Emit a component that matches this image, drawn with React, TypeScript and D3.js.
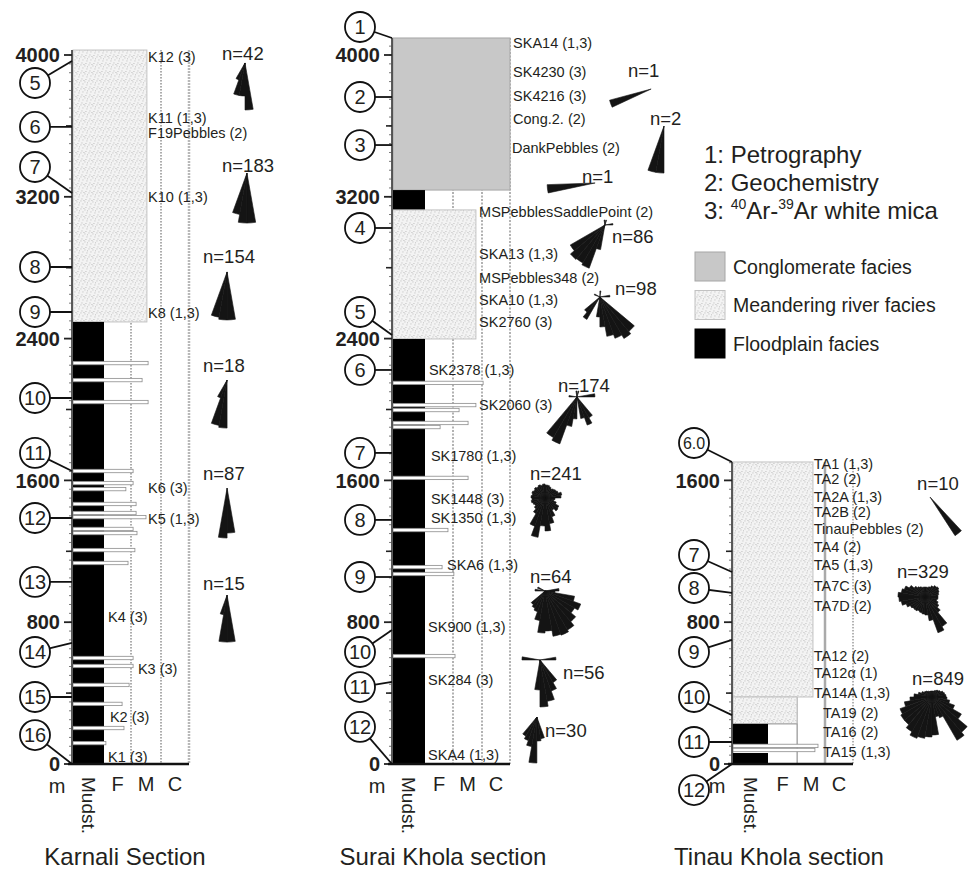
import React from 'react';
import * as d3 from 'd3';

const FONT = "'Liberation Sans', Arial, Helvetica, sans-serif";
const INK = '#231f20';

// ---------------- shared ----------------
const depthDomain = [0, 4000];
const labelledStep = 800;
const midStep = 400;
const minorStep = 50;

// ---------------- Karnali ----------------
const karnaliTicks = [0, 800, 1600, 2400, 3200, 4000];
const karnaliFacies = [
  { type: 'meander', top: 4028, base: 2494, grain: 2.53 },
  { type: 'flood', top: 2494, base: 0, grain: 1 },
];
const karnaliBeds: [number, number][] = [
  [2262, 2.57], [2166, 2.37], [2042, 2.57], [1653, 2.07], [1585, 2.07], [1551, 1.81],
  [1467, 2.17], [1416, 2.17], [1393, 2.5], [1326, 2.07], [1303, 2.2], [1207, 2.13],
  [1134, 1.89], [598, 2.07], [553, 2.07], [446, 1.93], [339, 1.67], [203, 1.74], [118, 1.07],
];
const karnaliSamples: [string, number, number][] = [
  ['K12 (3)', 3989, 2.57], ['K11 (1,3)', 3645, 2.57], ['F19Pebbles (2)', 3560, 2.57],
  ['K10 (1,3)', 3199, 2.57], ['K8 (1,3)', 2544, 2.57], ['K6 (3)', 1557, 2.57],
  ['K5 (1,3)', 1382, 2.57], ['K4 (3)', 829, 1.15], ['K3 (3)', 536, 2.23],
  ['K2 (3)', 265, 1.22], ['K1 (3)', 39, 1.15],
];
const karnaliMarkers: [string, number, number][] = [
  ['5', 3966, 3842], ['6', 3594, 3594], ['7', 3221, 3368], ['8', 2804, 2804], ['9', 2550, 2550],
  ['10', 2065, 2065], ['11', 1653, 1755], ['12', 1388, 1388], ['13', 1027, 1027],
  ['14', 683, 632], ['15', 378, 378], ['16', 0, 163],
];
const karnaliRoses = [
  { n: 42, depth: 3955, lane: 6.0, labelDepth: 3972, labelLane: 5.18, petals: [[170, 47], [180, 33], [190, 33], [200, 18]] },
  { n: 183, depth: 3334, lane: 6.07, labelDepth: 3340, labelLane: 5.18, petals: [[170, 50], [180, 50], [190, 42]] },
  { n: 154, depth: 2776, lane: 5.36, labelDepth: 2827, labelLane: 4.5, petals: [[170, 48], [180, 48], [190, 46]] },
  { n: 18, depth: 2166, lane: 5.36, labelDepth: 2212, labelLane: 4.5, petals: [[180, 48], [190, 46], [200, 19]] },
  { n: 87, depth: 1557, lane: 5.36, labelDepth: 1602, labelLane: 4.5, petals: [[170, 45], [180, 50]] },
  { n: 15, depth: 953, lane: 5.36, labelDepth: 982, labelLane: 4.5, petals: [[170, 47], [180, 47], [190, 20]] },
];

// ---------------- Surai Khola ----------------
const suraiTicks = [0, 800, 1600, 2400, 3200, 4000];
const suraiFacies = [
  { type: 'conglomerate', top: 4096, base: 3238, grain: 4 },
  { type: 'flood', top: 3238, base: 3126, grain: 1 },
  { type: 'meander', top: 3126, base: 2398, grain: 2.79 },
  { type: 'flood', top: 2398, base: 0, grain: 1 },
];
const suraiBeds: [number, number][] = [
  [2150, 3.04], [2025, 2.79], [1997, 2.21], [1924, 2.52], [1901, 1.54],
  [1614, 2.52], [1320, 1.82], [1111, 1.61], [1072, 2.03], [609, 2.07],
];
const suraiSamples: [string, number, number][] = [
  ['SKA14 (1,3)', 4068, 4.11], ['SK4230 (3)', 3904, 4.11], ['SK4216 (3)', 3769, 4.11],
  ['Cong.2. (2)', 3639, 4.11], ['DankPebbles (2)', 3475, 4.07],
  ['MSPebblesSaddlePoint (2)', 3114, 2.9], ['SKA13 (1,3)', 2877, 2.9], ['MSPebbles348 (2)', 2742, 2.9],
  ['SKA10 (1,3)', 2618, 2.9], ['SK2760 (3)', 2494, 2.9],
  ['SK2378 (1,3)', 2223, 1.14], ['SK2060 (3)', 2025, 2.9], ['SK1780 (1,3)', 1738, 1.21],
  ['SK1448 (3)', 1495, 1.21], ['SK1350 (1,3)', 1388, 1.21], ['SKA6 (1,3)', 1123, 1.79],
  ['SK900 (1,3)', 773, 1.11], ['SK284 (3)', 474, 1.11], ['SKA4 (1,3)', 51, 1.11],
];
const suraiMarkers: [string, number, number][] = [
  ['1', 4096, 4158], ['2', 3763, 3763], ['3', 3492, 3492], ['4', 3024, 3024], ['5', 2420, 2550],
  ['6', 2223, 2223], ['7', 1755, 1755], ['8', 1377, 1377], ['9', 1055, 1055],
  ['10', 756, 632], ['11', 463, 434], ['12', 0, 209],
];
const suraiRoses = [
  { n: 1, depth: 3808, lane: 9.04, labelDepth: 3876, labelLane: 8.21, petals: [[245, 43]] },
  { n: 2, depth: 3599, lane: 9.5, labelDepth: 3605, labelLane: 9.0, petals: [[180, 47], [190, 47]] },
  { n: 1, depth: 3278, lane: 7.04, labelDepth: 3278, labelLane: 6.57, petals: [[258, 48]] },
  { n: 86, depth: 3041, lane: 7.39, labelDepth: 2939, labelLane: 7.64,
    petals: [[190, 25], [200, 46], [210, 44], [220, 45], [230, 40], [80, 8], [350, 5], [10, 5]] },
  { n: 98, depth: 2635, lane: 7.21, labelDepth: 2646, labelLane: 7.75,
    petals: [[130, 45], [140, 48], [150, 44], [160, 40], [170, 30], [180, 20], [210, 26], [220, 20], [0, 6], [80, 10], [290, 6]] },
  { n: 174, depth: 2071, lane: 6.39, labelDepth: 2099, labelLane: 5.71,
    petals: [[200, 50], [210, 47], [190, 30], [180, 22], [150, 30], [140, 24], [160, 22], [80, 18], [270, 8], [350, 6], [10, 6]] },
  { n: 241, depth: 1501, lane: 5.25, labelDepth: 1602, labelLane: 4.71,
    petals: [[0, 13], [10, 13], [20, 12], [30, 11], [40, 12], [50, 13], [60, 14], [70, 17], [80, 16], [90, 10],
      [100, 9], [110, 12], [120, 16], [130, 17], [140, 14], [150, 20], [160, 26], [170, 33], [180, 28], [190, 40],
      [200, 30], [210, 18], [220, 14], [230, 12], [240, 13], [250, 14], [260, 13], [270, 14], [280, 13], [290, 14],
      [300, 13], [310, 14], [320, 13], [330, 14], [340, 13], [350, 14]] },
  { n: 64, depth: 976, lane: 5.25, labelDepth: 1021, labelLane: 4.71,
    petals: [[80, 14], [90, 10], [100, 30], [110, 38], [120, 34], [130, 40], [140, 45], [150, 47], [160, 46], [170, 40],
      [180, 42], [190, 30], [200, 22], [210, 20], [220, 18], [270, 10], [290, 8]] },
  { n: 56, depth: 587, lane: 5.07, labelDepth: 480, labelLane: 5.89,
    petals: [[80, 16], [270, 18], [140, 26], [150, 33], [160, 42], [170, 47], [180, 30]] },
  { n: 30, depth: 265, lane: 4.96, labelDepth: 152, labelLane: 5.25,
    petals: [[160, 22], [170, 24], [180, 46], [190, 30], [200, 25], [210, 22]] },
];

// ---------------- Tinau Khola ----------------
const tinauTicks = [0, 800, 1600];
const tinauFacies = [
  { type: 'meander', top: 1704, base: 378, grain: 2.57 },
  { type: 'meander', top: 378, base: 226, grain: 2 },
  { type: 'sand', top: 226, base: 0, grain: 2 },
  { type: 'flood', top: 226, base: 113, grain: 1 },
  { type: 'flood', top: 62, base: 0, grain: 1 },
];
const tinauBeds: [number, number][] = [[102, 2.75], [79, 2.64]];
const tinauSamples: [string, number, number][] = [
  ['TA1 (1,3)', 1693, 2.6], ['TA2 (2)', 1608, 2.6], ['TA2A (1,3)', 1506, 2.6], ['TA2B (2)', 1422, 2.6],
  ['TinauPebbles (2)', 1326, 2.6], ['TA4 (2)', 1224, 2.6], ['TA5 (1,3)', 1123, 2.6], ['TA7C (3)', 1004, 2.6],
  ['TA7D (2)', 891, 2.6], ['TA12 (2)', 609, 2.6], ['TA12\u03b1 (1)', 513, 2.6], ['TA14A (1,3)', 401, 2.6],
  ['TA19 (2)', 288, 2.93], ['TA16 (2)', 181, 2.93], ['TA15 (1,3)', 68, 2.93],
];
const tinauMarkers: [string, number, number][] = [
  ['6.0', 1704, 1811], ['7', 1083, 1179], ['8', 965, 993], ['9', 700, 632],
  ['10', 276, 378], ['11', 124, 124], ['12', 0, -147],
];
const tinauRoses = [
  { n: 10, depth: 1506, lane: 6.75, labelDepth: 1546, labelLane: 6.29, petals: [[137, 46]] },
  { n: 329, depth: 942, lane: 6.57, labelDepth: 1049, labelLane: 5.57,
    petals: [[0, 10], [10, 10], [20, 11], [30, 13], [40, 15], [50, 16], [60, 15], [70, 14], [80, 13], [90, 13],
      [100, 12], [110, 14], [120, 16], [130, 20], [140, 34], [150, 38], [160, 24], [170, 18], [180, 17], [190, 16],
      [200, 15], [210, 16], [220, 16], [230, 17], [240, 20], [250, 24], [260, 26], [270, 27], [280, 24], [290, 22],
      [300, 18], [310, 14], [320, 12], [330, 11], [340, 10], [350, 10]] },
  { n: 849, depth: 378, lane: 6.82, labelDepth: 446, labelLane: 6.11,
    petals: [[0, 6], [10, 6], [20, 7], [30, 8], [40, 9], [50, 10], [60, 12], [70, 13], [80, 14], [90, 15],
      [100, 18], [110, 24], [120, 34], [130, 46], [140, 50], [150, 22], [160, 20], [170, 38], [180, 40], [190, 42],
      [200, 44], [210, 40], [220, 36], [230, 36], [240, 34], [250, 28], [260, 22], [270, 18], [280, 14], [290, 11],
      [300, 9], [310, 8], [320, 7], [330, 6], [340, 6], [350, 6]] },
];

// ---------------- legend ----------------
const methodLabels = ['1: Petrography', '2: Geochemistry'];
const legendFacies = [
  { type: 'conglomerate', label: 'Conglomerate facies' },
  { type: 'meander', label: 'Meandering river facies' },
  { type: 'flood', label: 'Floodplain facies' },
];
const grainLabels = ['F', 'M', 'C'];

// ---------------- layout ----------------
const sections = [
  {
    key: 'karnali', title: 'Karnali Section', titleX: 125, grainRange: [73, 104, 131, 161, 189], top: 4028,
    ticks: karnaliTicks, facies: karnaliFacies, beds: karnaliBeds, samples: karnaliSamples,
    markers: karnaliMarkers, roses: karnaliRoses, circleDx: -37,
    lines: [
      { stroke: '#555', w: 1, dash: '1.5 1.5' },
      { stroke: '#555', w: 1, dash: '1.5 1.5' },
      { stroke: '#b8b8b8', w: 2.5, dash: '2 1' },
    ],
  },
  {
    key: 'surai', title: 'Surai Khola section', titleX: 443, grainRange: [393, 425, 453, 482, 510], top: 4096,
    ticks: suraiTicks, facies: suraiFacies, beds: suraiBeds, samples: suraiSamples,
    markers: suraiMarkers, roses: suraiRoses, circleDx: -32,
    lines: [
      { stroke: '#999', w: 1.5, dash: '2 1.5' },
      { stroke: '#999', w: 1.5, dash: '2 1.5' },
      { stroke: '#999', w: 1.5, dash: '2 1.5' },
    ],
  },
  {
    key: 'tinau', title: 'Tinau Khola section', titleX: 779, grainRange: [733, 768, 797, 825, 853], top: 1704,
    ticks: tinauTicks, facies: tinauFacies, beds: tinauBeds, samples: tinauSamples,
    markers: tinauMarkers, roses: tinauRoses, circleDx: -38,
    lines: [
      { stroke: '#888', w: 1, dash: null },
      { stroke: '#aaa', w: 2.5, dash: null },
      { stroke: '#666', w: 1, dash: '1.5 1.5' },
    ],
  },
];

const yDepth = d3.scaleLinear().domain(depthDomain).range([764, 55]);
const rScale = d3.scaleLinear().domain([0, 50]).range([0, 50]);
const arcGen = d3.arc();

const stippleDots = [[0.5, 0.5], [4.5, 1.5], [2.5, 3.5], [6.5, 4.5], [1.5, 6.5], [5.5, 7.0], [3.5, 0.0], [7.2, 2.4]];

function faciesStyle(type: string) {
  if (type === 'meander') return { fill: 'url(#stipple)', stroke: '#c2c2c2', sw: 1 };
  if (type === 'conglomerate') return { fill: '#c8c8c8', stroke: '#a6a6a6', sw: 1 };
  if (type === 'sand') return { fill: '#ffffff', stroke: '#9a9a9a', sw: 1 };
  return { fill: '#000000', stroke: 'none', sw: 0 };
}

function Section({ s }: { s: any }) {
  const x = d3.scaleLinear().domain([0, 1, 2, 3, 4]).range(s.grainRange);
  const y = yDepth;
  const ax = x(0) - 1;
  const minor = d3.range(0, s.top, minorStep);
  const mids = d3.range(0, s.top, midStep).filter((d) => d % labelledStep !== 0);
  const circleX = ax + s.circleDx;
  return (
    <g>
      {[2, 3, 4].map((g, i) => (
        <line key={'gl' + g} x1={x(g)} x2={x(g)} y1={y(s.top)} y2={y(0)}
          stroke={s.lines[i].stroke} strokeWidth={s.lines[i].w}
          strokeDasharray={s.lines[i].dash || undefined} />
      ))}
      {s.facies.map((f: any, i: number) => {
        const st = faciesStyle(f.type);
        return (
          <rect key={'f' + i} x={x(0)} y={y(f.top)} width={x(f.grain) - x(0)} height={y(f.base) - y(f.top)}
            fill={st.fill} stroke={st.stroke} strokeWidth={st.sw} />
        );
      })}
      {s.beds.map(([d, g]: [number, number], i: number) => (
        <rect key={'b' + i} x={x(0)} y={y(d) - 1.7} width={x(g) - x(0)} height={3.4}
          fill="#fff" stroke="#8c8c8c" strokeWidth={0.8} />
      ))}
      {/* axis */}
      <line x1={ax} x2={ax} y1={y(s.top)} y2={y(0)} stroke="#333" strokeWidth={1.6} />
      {minor.map((d) => (
        <line key={'mn' + d} x1={ax - 3} x2={ax} y1={y(d)} y2={y(d)} stroke="#555" strokeWidth={0.8} />
      ))}
      {mids.map((d) => (
        <line key={'md' + d} x1={ax - 6} x2={ax} y1={y(d)} y2={y(d)} stroke="#222" strokeWidth={1.6} />
      ))}
      {s.ticks.map((t: number) => (
        <g key={'t' + t}>
          <line x1={ax - 8} x2={ax} y1={y(t)} y2={y(t)} stroke="#222" strokeWidth={1.8} />
          <text x={ax - 12} y={y(t)} dy="0.36em" textAnchor="end" fontWeight="bold" fontSize={20} fill={INK}>{t}</text>
        </g>
      ))}
      <line x1={ax - 4} x2={x(4)} y1={y(0)} y2={y(0)} stroke="#111" strokeWidth={2.5} />
      {/* markers */}
      {s.markers.map(([id, d, cd]: [string, number, number]) => (
        <g key={'m' + id}>
          <line x1={circleX} y1={y(cd)} x2={ax} y2={y(d)} stroke="#111" strokeWidth={1.8} />
          <circle cx={circleX} cy={y(cd)} r={15} fill="#fff" stroke="#111" strokeWidth={1.8} />
          <text x={circleX} y={y(cd)} dy="0.36em" textAnchor="middle" fontSize={id.length > 2 ? 16 : 20} fill={INK}>{id}</text>
        </g>
      ))}
      {/* samples */}
      {s.samples.map(([lab, d, g]: [string, number, number]) => (
        <text key={'s' + lab} x={x(g)} y={y(d)} dy="0.36em" fontSize={14.5} fill={INK}>{lab}</text>
      ))}
      {/* rose diagrams */}
      {s.roses.map((r: any, i: number) => (
        <g key={'r' + i}>
          <g transform={`translate(${x(r.lane)},${y(r.depth)})`}>
            {r.petals.map(([az, len]: [number, number], j: number) => (
              <path key={j} d={arcGen({
                innerRadius: 0, outerRadius: rScale(len),
                startAngle: (az * Math.PI) / 180, endAngle: ((az + 10) * Math.PI) / 180,
              } as any) as string} fill="#141414" stroke="#141414" strokeWidth={0.6} />
            ))}
          </g>
          <text x={x(r.labelLane)} y={y(r.labelDepth)} fontSize={18.5} fill={INK}>{'n=' + r.n}</text>
        </g>
      ))}
      {/* bottom labels */}
      <text x={ax - 15} y={793} textAnchor="middle" fontSize={20} fill={INK}>m</text>
      <text transform={`translate(${(x(0) + x(1)) / 2 - 7},777) rotate(90)`} fontSize={19} fill={INK}>Mudst.</text>
      {grainLabels.map((gl, i) => (
        <text key={gl} x={(x(i + 1) + x(i + 2)) / 2} y={791} textAnchor="middle" fontSize={20} fill={INK}>{gl}</text>
      ))}
      <text x={s.titleX} y={865} textAnchor="middle" fontSize={24} fill={INK}>{s.title}</text>
    </g>
  );
}

function Legend() {
  const boxY = d3.scaleLinear().domain([0, 1]).range([252, 290.5]);
  return (
    <g>
      {methodLabels.map((m, i) => (
        <text key={m} x={704} y={163 + i * 28} fontSize={24} fill={INK}>{m}</text>
      ))}
      <text x={704} y={219} fontSize={24} fill={INK}>
        3: <tspan fontSize={14} dy={-10}>40</tspan>
        <tspan dy={10}>Ar-</tspan>
        <tspan fontSize={14} dy={-10}>39</tspan>
        <tspan dy={10}>Ar white mica</tspan>
      </text>
      {legendFacies.map((f, i) => {
        const st = faciesStyle(f.type);
        return (
          <g key={f.type}>
            <rect x={695} y={boxY(i)} width={30} height={29} fill={st.fill}
              stroke={f.type === 'flood' ? '#000' : st.stroke} strokeWidth={1} />
            <text x={733} y={boxY(i) + 14.5} dy="0.36em" fontSize={19.5} fill={INK}>{f.label}</text>
          </g>
        );
      })}
    </g>
  );
}

export default function App() {
  return (
    <svg width={971} height={872} viewBox="0 0 971 872" fontFamily={FONT}
      style={{ position: 'absolute', left: 0, top: 0, background: '#fff' }}>
      <defs>
        <pattern id="stipple" patternUnits="userSpaceOnUse" width={8} height={8}>
          <rect width={8} height={8} fill="#f3f3f3" />
          {stippleDots.map(([px, py], i) => (
            <rect key={i} x={px} y={py} width={0.9} height={0.9} fill="#b0b0b0" />
          ))}
        </pattern>
      </defs>
      <rect width={971} height={872} fill="#fff" />
      {sections.map((s) => <Section key={s.key} s={s} />)}
      <Legend />
    </svg>
  );
}
